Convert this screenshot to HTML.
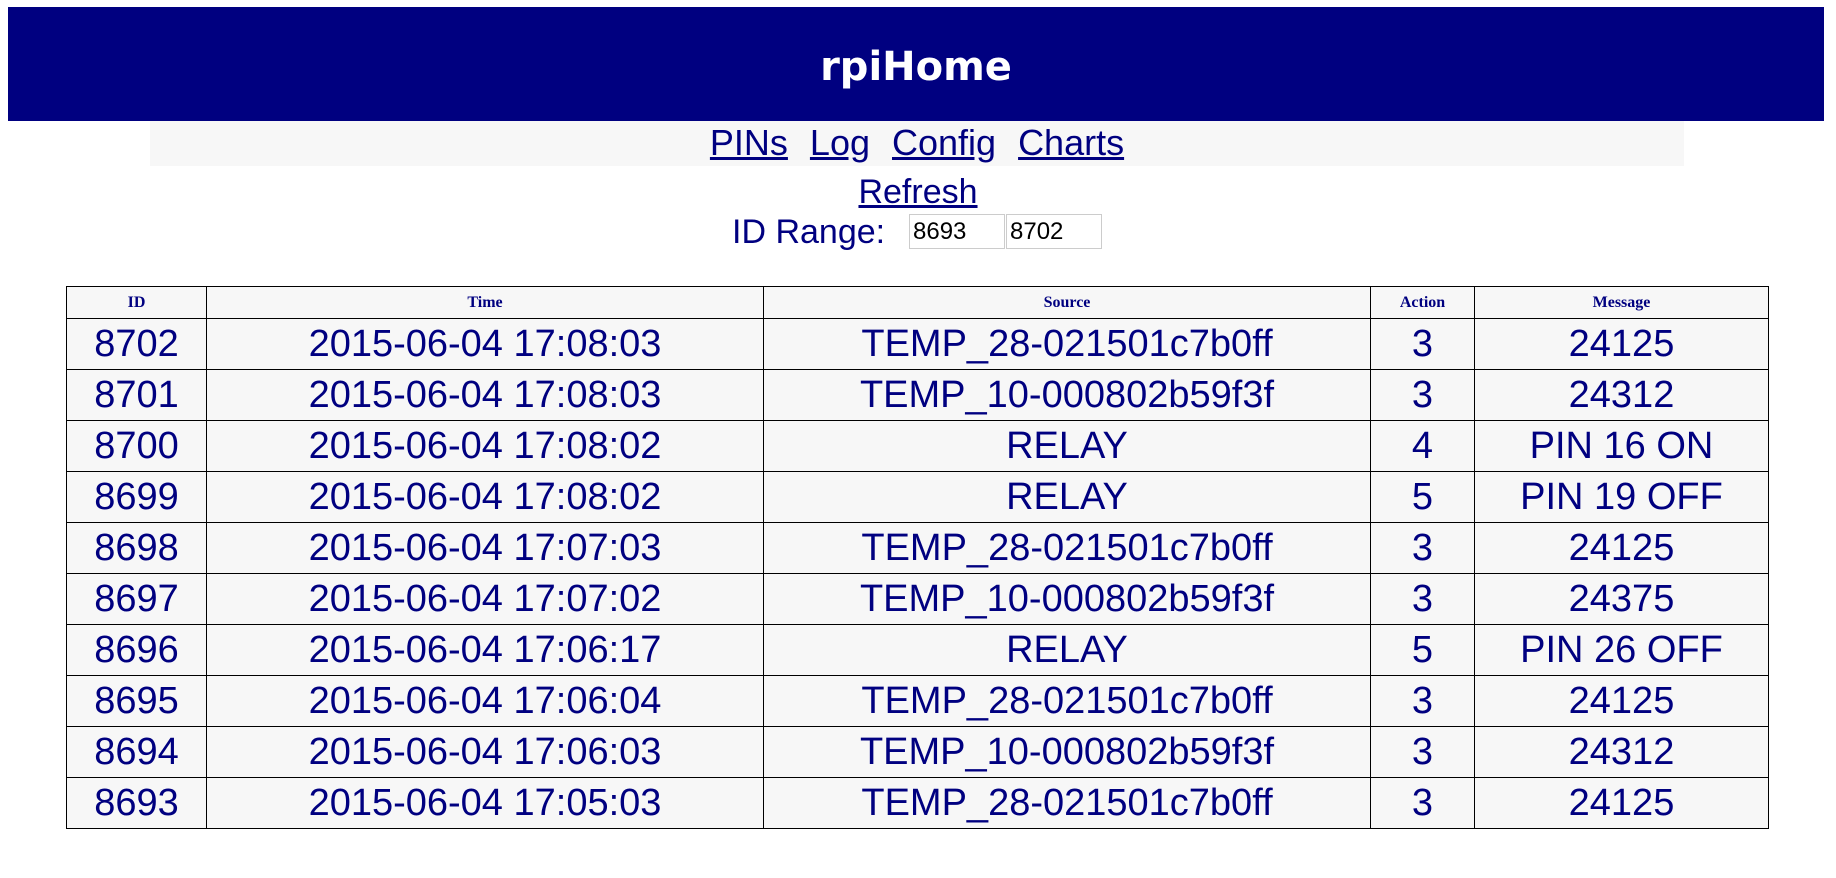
<!DOCTYPE html>
<html><head><meta charset="utf-8">
<style>
body{margin:0;background:#fff;font-family:"Liberation Sans",sans-serif;color:#000080;width:1836px;height:878px;position:relative;overflow:hidden}
#hdr{position:absolute;left:8px;top:7px;width:1816px;height:114px;background:#000080;color:#fff;font:bold 40px "DejaVu Sans",sans-serif;text-align:center;line-height:120px}
#nav{position:absolute;left:150px;top:121px;width:1534px;height:45px;background:#f7f7f7;text-align:center;font-size:36px;line-height:44px}
#nav a,#ref a{color:#000080;text-decoration:underline;margin:0 11px}
#ref{position:absolute;left:0;width:1836px;top:172px;text-align:center;font-size:34px;line-height:40px}
#rng{position:absolute;left:0;width:1836px;top:212px;font-size:34px;line-height:40px}
#rng span{position:absolute;left:732px;top:0}
input{position:absolute;top:2px;height:35px;border:1px solid #ccc;font:24px "Liberation Sans",sans-serif;padding:0 3px;box-sizing:border-box;background:#fff;color:#000}
table{position:absolute;left:66px;top:286px;width:1703px;border-collapse:collapse;background:#f7f7f7}
td,th{border:1px solid #000;text-align:center;padding:0}
th{font:bold 16px "Liberation Serif",serif;height:31px}
td{font-size:38px;height:50px}
</style></head><body>
<div id="hdr">rpiHome</div>
<div id="nav"><a>PINs</a><a>Log</a><a>Config</a><a>Charts</a></div>
<div id="ref"><a>Refresh</a></div>
<div id="rng"><span>ID Range:</span>
<input style="left:909px;width:96px" value="8693">
<input style="left:1006px;width:96px" value="8702"></div>
<table>
<colgroup><col style="width:140px"><col style="width:557px"><col style="width:607px"><col style="width:104px"><col></colgroup>
<tr><th>ID</th><th>Time</th><th>Source</th><th>Action</th><th>Message</th></tr>
<tr><td>8702</td><td>2015-06-04 17:08:03</td><td>TEMP_28-021501c7b0ff</td><td>3</td><td>24125</td></tr>
<tr><td>8701</td><td>2015-06-04 17:08:03</td><td>TEMP_10-000802b59f3f</td><td>3</td><td>24312</td></tr>
<tr><td>8700</td><td>2015-06-04 17:08:02</td><td>RELAY</td><td>4</td><td>PIN 16 ON</td></tr>
<tr><td>8699</td><td>2015-06-04 17:08:02</td><td>RELAY</td><td>5</td><td>PIN 19 OFF</td></tr>
<tr><td>8698</td><td>2015-06-04 17:07:03</td><td>TEMP_28-021501c7b0ff</td><td>3</td><td>24125</td></tr>
<tr><td>8697</td><td>2015-06-04 17:07:02</td><td>TEMP_10-000802b59f3f</td><td>3</td><td>24375</td></tr>
<tr><td>8696</td><td>2015-06-04 17:06:17</td><td>RELAY</td><td>5</td><td>PIN 26 OFF</td></tr>
<tr><td>8695</td><td>2015-06-04 17:06:04</td><td>TEMP_28-021501c7b0ff</td><td>3</td><td>24125</td></tr>
<tr><td>8694</td><td>2015-06-04 17:06:03</td><td>TEMP_10-000802b59f3f</td><td>3</td><td>24312</td></tr>
<tr><td>8693</td><td>2015-06-04 17:05:03</td><td>TEMP_28-021501c7b0ff</td><td>3</td><td>24125</td></tr>
</table>
</body></html>
